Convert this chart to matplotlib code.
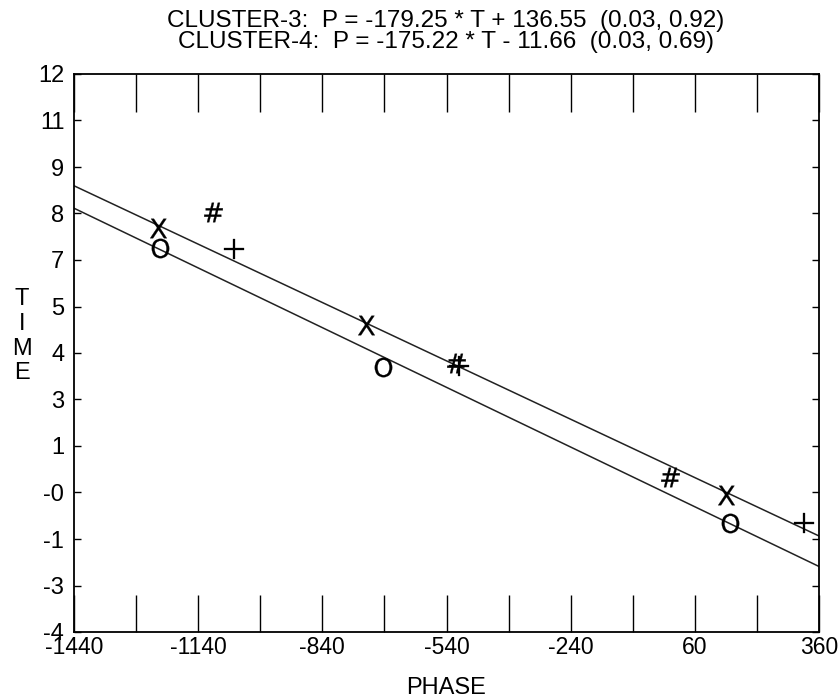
# Phase vs time scatter with the two fitted cluster lines.
import numpy as np
import matplotlib
matplotlib.use('Agg')
import matplotlib.pyplot as plt

######
# DATA
######
# Points (phase, time), one set per symbol.
x_phase = [-1237, -734, 135]
x_time = [7.58, 4.80, -0.07]
o_phase = [-1232, -693, 145]
o_time = [7.01, 3.60, -0.88]
hash_phase = [-1104, -517, 0]
hash_time = [8.04, 3.71, 0.44]
plus_phase = [-1053, -510, 324]
plus_time = [6.98, 3.63, -0.88]

# Fitted lines, P = slope * T + intercept.
cluster_names = ['CLUSTER-3', 'CLUSTER-4']
slopes = [-179.25, -175.22]
intercepts = [136.55, -11.66]
fit_stats = ['(0.03, 0.92)', '(0.03, 0.69)']

# Axis ticks and labels.
x_ticks = np.arange(-1440, 361, 300)
x_minor = np.arange(-1440, 361, 150)
y_ticks = np.linspace(-4, 12, 13)
y_labels = ['-4', '-3', '-1', '-0', '1', '3', '4', '5', '7', '8', '9', '11', '12']

######
# PLOT
######
plt.rcParams['font.family'] = ['Liberation Sans', 'DejaVu Sans']

fig = plt.figure(figsize=(8.39, 7.0), dpi=100)
ax = fig.add_axes([74 / 839, 1 - 632 / 700, 745 / 839, 558 / 700])

# Fitted lines across the whole phase range.
p_line = np.array([-1440, 360])
for slope, intercept in zip(slopes, intercepts):
    ax.plot(p_line, (p_line - intercept) / slope, color='#222222', linewidth=1.1)

# Symbols.
marker_kw = dict(linestyle='none', color='black', markersize=14, markeredgewidth=0.2)
ax.plot(x_phase, x_time, marker='$\\mathsf{X}$', **marker_kw)
ax.plot(o_phase, o_time, marker='$\\mathsf{O}$', **marker_kw)
ax.plot(hash_phase, hash_time, marker='$\\#$', **marker_kw)
ax.plot(plus_phase, plus_time, marker='$+$', **marker_kw)

ax.set_xlim(-1440, 360)
ax.set_ylim(-4, 12)

# Long inward ticks on top and bottom, short ones on the sides.
ax.set_xticks(x_ticks)
ax.set_xticks(x_minor, minor=True)
ax.set_xticklabels([str(v) for v in x_ticks])
ax.tick_params(axis='x', which='both', direction='in', top=True, bottom=True,
               length=27, width=1.0, labelsize=16.5, pad=3)
ax.set_yticks(y_ticks)
ax.set_yticklabels(y_labels)
ax.tick_params(axis='y', direction='in', left=True, right=True,
               length=5, width=1.0, labelsize=17, pad=7)
for spine in ax.spines.values():
    spine.set_linewidth(1.3)

ax.set_xlabel('PHASE', fontsize=17, labelpad=13)
ax.set_ylabel('T\nI\nM\nE', fontsize=17, rotation=0, linespacing=1.15,
              va='center', ha='center')
ax.yaxis.set_label_coords(-0.07, 0.53)

# Two title lines, one per cluster fit.
title_baselines = [1 - 27 / 700, 1 - 48 / 700]
for name, slope, intercept, stats, yb in zip(cluster_names, slopes, intercepts,
                                            fit_stats, title_baselines):
    sign = '+' if intercept >= 0 else '-'
    line = '%s:  P = %.2f * T %s %.2f  %s' % (name, slope, sign, abs(intercept), stats)
    fig.text(446 / 839, yb, line, fontsize=17.5, ha='center', va='baseline')

fig.savefig('out.png', dpi=100)
